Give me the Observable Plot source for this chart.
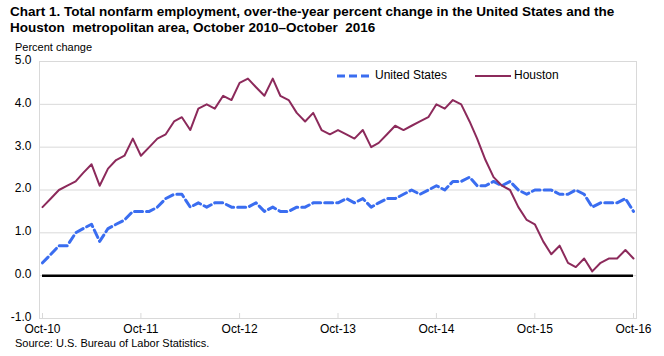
<!DOCTYPE html>
<html><head><meta charset="utf-8">
<script src="https://cdn.jsdelivr.net/npm/d3@7"></script>
<script src="https://cdn.jsdelivr.net/npm/@observablehq/plot@0.6"></script>
<style>
body{margin:0;background:#fff;font-family:"Liberation Sans",Arial,sans-serif;color:#000;}
#wrap{position:relative;width:664px;height:356px;overflow:hidden;background:#fff;}
#title{position:absolute;left:10px;top:4px;font-weight:bold;font-size:13.5px;line-height:16px;white-space:pre;}
#ylab{position:absolute;left:15px;top:41px;font-size:11px;}
#chart{position:absolute;left:0;top:44px;}
#source{position:absolute;left:15px;top:337px;font-size:11px;}
.leg{position:absolute;font-size:12px;top:68px;}
.legsw{position:absolute;top:70px;}
</style></head>
<body>
<div id="wrap">
<div id="title"></div>
<div id="ylab"></div>
<div id="chart"></div>
<svg class="legsw" style="left:337px" width="32" height="12"><line x1="0" x2="32" y1="6" y2="6" stroke="#3a6df0" stroke-width="3" stroke-dasharray="8,4"/></svg>
<div class="leg" id="leg1" style="left:375px"></div>
<svg class="legsw" style="left:475px" width="36" height="12"><line x1="0" x2="36" y1="6" y2="6" stroke="#8c2a5b" stroke-width="2"/></svg>
<div class="leg" id="leg2" style="left:514px"></div>
<div id="source"></div>
</div>
<script>
const titleText = "Chart 1. Total nonfarm employment, over-the-year percent change in the United States and the\nHouston  metropolitan area, October 2010\u2013October  2016";
const yLabel = "Percent change";
const sourceText = "Source: U.S. Bureau of Labor Statistics.";
const seriesNames = ["United States", "Houston"];
const startMonth = "2010-10-01";
const yTicks = [-1, 0, 1, 2, 3, 4, 5];
const xTickLabels = ["Oct-10","Oct-11","Oct-12","Oct-13","Oct-14","Oct-15","Oct-16"];
const unitedStates = [0.3,0.5,0.7,0.7,1.0,1.1,1.2,0.8,1.1,1.2, 1.3,1.5,1.5,1.5,1.6,1.8,1.9,1.9,1.6,1.7, 1.6,1.7,1.7,1.6,1.6,1.6,1.7,1.5,1.6,1.5, 1.5,1.6,1.6,1.7,1.7,1.7,1.7,1.8,1.7,1.8, 1.6,1.7,1.8,1.8,1.9,2.0,1.9,2.0,2.1,2.0, 2.2,2.2,2.3,2.1,2.1,2.2,2.1,2.2,2.0,1.9, 2.0,2.0,2.0,1.9,1.9,2.0,1.9,1.6,1.7,1.7, 1.7,1.8,1.5];
const houston = [1.6,1.8,2.0,2.1,2.2,2.4,2.6,2.1,2.5,2.7, 2.8,3.2,2.8,3.0,3.2,3.3,3.6,3.7,3.4,3.9, 4.0,3.9,4.2,4.1,4.5,4.6,4.4,4.2,4.6,4.2, 4.1,3.8,3.6,3.8,3.4,3.3,3.4,3.3,3.2,3.4, 3.0,3.1,3.3,3.5,3.4,3.5,3.6,3.7,4.0,3.9, 4.1,4.0,3.6,3.2,2.7,2.3,2.1,2.0,1.6,1.3, 1.2,0.8,0.5,0.7,0.3,0.2,0.4,0.1,0.3,0.4, 0.4,0.6,0.4];

document.getElementById("title").textContent = titleText;
document.getElementById("ylab").textContent = yLabel;
document.getElementById("source").textContent = sourceText;
document.getElementById("leg1").textContent = seriesNames[0];
document.getElementById("leg2").textContent = seriesNames[1];

const start = new Date(startMonth);
const months = unitedStates.map((_, i) => d3.utcMonth.offset(start, i));
const end = months[months.length - 1];
const usRows = unitedStates.map((v, i) => ({date: months[i], value: v}));
const hoRows = houston.map((v, i) => ({date: months[i], value: v}));
const octTicks = xTickLabels.map((_, i) => d3.utcYear.offset(start, i));
const labelOf = new Map(octTicks.map((d, i) => [+d, xTickLabels[i]]));

const H = 290, mt = 17, mb = 16;
const chart = Plot.plot({
  width: 664, height: H,
  marginLeft: 39, marginRight: 28, marginTop: mt, marginBottom: mb,
  style: {fontFamily: '"Liberation Sans", Arial, sans-serif', fontSize: "12px", color: "#000", background: "transparent", overflow: "visible"},
  x: {type: "utc", domain: [start, end], insetLeft: 3, insetRight: 3},
  y: {domain: [-1, 5]},
  marks: [
    Plot.gridY(yTicks, {stroke: "#d9d9d9", strokeOpacity: 1, strokeWidth: 1}),
    Plot.frame({stroke: "#d9d9d9"}),
    Plot.tickX(octTicks, {x: d => d, stroke: "#d9d9d9", insetTop: H - mt - mb - 5}),
    Plot.axisY(yTicks, {tickSize: 0, tickPadding: 8, dy: -1.5, tickFormat: d => d.toFixed(1), label: null, fontSize: 12}),
    Plot.axisX(octTicks, {tickSize: 0, tickPadding: 6, tickFormat: d => labelOf.get(+d), label: null, fontSize: 12}),
    Plot.ruleY([0], {x1: start, x2: end, stroke: "#000", strokeWidth: 2.5}),
    Plot.line(usRows, {x: "date", y: "value", stroke: "#3a6df0", strokeWidth: 3, strokeDasharray: "8,4"}),
    Plot.line(hoRows, {x: "date", y: "value", stroke: "#8c2a5b", strokeWidth: 2})
  ]
});
document.getElementById("chart").appendChild(chart);
</script>
</body></html>
